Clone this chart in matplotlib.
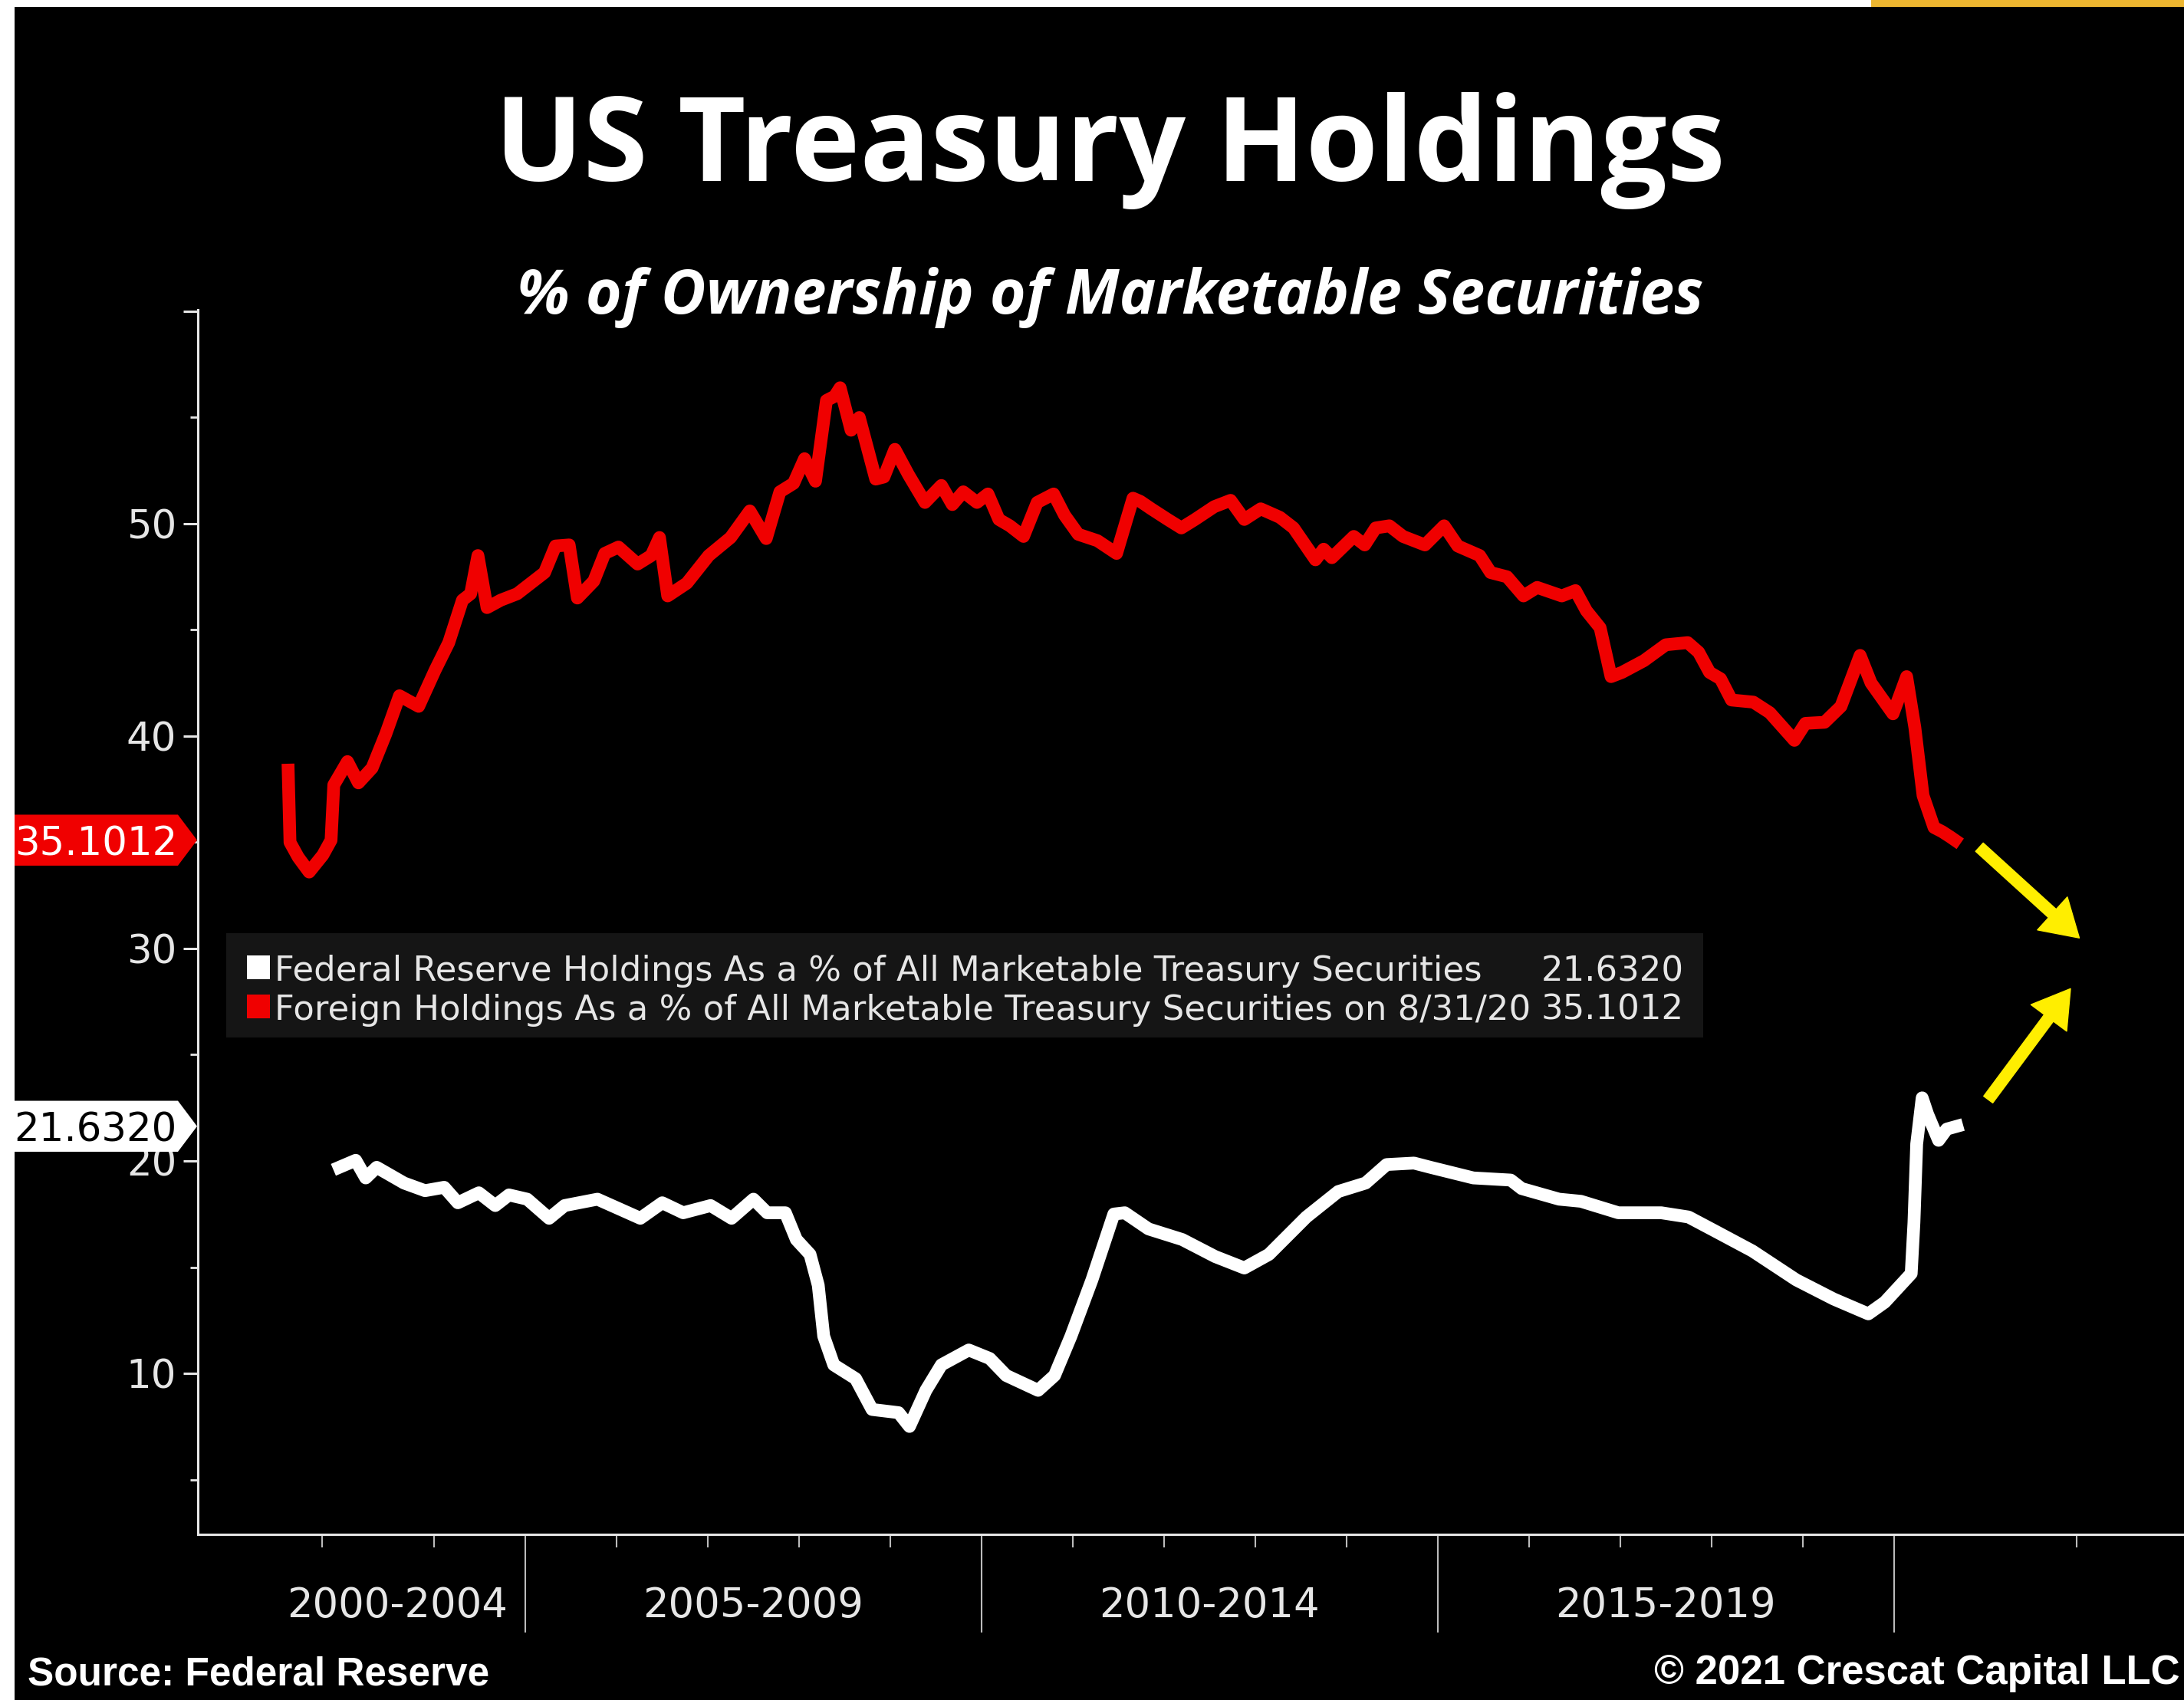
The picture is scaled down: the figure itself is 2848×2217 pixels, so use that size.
import matplotlib.pyplot as plt
from matplotlib.patches import Rectangle, Polygon
from matplotlib.transforms import blended_transform_factory

# Foreign holdings, % of marketable Treasuries (decimal years)
foreign_years = [2002.40, 2002.42, 2002.51, 2002.63, 2002.78, 2002.87, 2002.90, 2003.05, 2003.17, 2003.32,
                 2003.47, 2003.62, 2003.83, 2004.01, 2004.16, 2004.31, 2004.40, 2004.48, 2004.58, 2004.73,
                 2004.91, 2005.09, 2005.21, 2005.33, 2005.48, 2005.57, 2005.75, 2005.87, 2006.02, 2006.23,
                 2006.38, 2006.47, 2006.56, 2006.77, 2007.01, 2007.25, 2007.46, 2007.64, 2007.79, 2007.94,
                 2008.06, 2008.18, 2008.30, 2008.39, 2008.45, 2008.57, 2008.66, 2008.84, 2008.93, 2009.05,
                 2009.20, 2009.38, 2009.56, 2009.68, 2009.80, 2009.95, 2010.07, 2010.19, 2010.31, 2010.46,
                 2010.61, 2010.79, 2010.91, 2011.06, 2011.27, 2011.48, 2011.66,
                 2011.74, 2011.86, 2012.04, 2012.19, 2012.34, 2012.55, 2012.73, 2012.88, 2013.06, 2013.27,
                 2013.42, 2013.66, 2013.75, 2013.84, 2014.08, 2014.20, 2014.32, 2014.47, 2014.62, 2014.86,
                 2015.07, 2015.22, 2015.46, 2015.58, 2015.76, 2015.94, 2016.09, 2016.36, 2016.51, 2016.63,
                 2016.78, 2016.90, 2017.02, 2017.26, 2017.50, 2017.74, 2017.86, 2017.98, 2018.10, 2018.22,
                 2018.46, 2018.64, 2018.91, 2019.03, 2019.24, 2019.42, 2019.63, 2019.75, 2019.99, 2020.14,
                 2020.23, 2020.32, 2020.44, 2020.53, 2020.62, 2020.67]
foreign_pct = [38.4, 35.0, 34.3, 33.6, 34.4, 35.1, 37.7, 38.8, 37.8, 38.5,
               40.1, 41.9, 41.4, 43.1, 44.4, 46.4, 46.7, 48.5, 46.05, 46.4,
               46.7, 47.3, 47.7, 48.95, 49.0, 46.5, 47.3, 48.6, 48.9, 48.1,
               48.5, 49.35, 46.6, 47.2, 48.5, 49.35, 50.6, 49.3, 51.5, 51.9,
               53.06, 52.0, 55.8, 56.0, 56.4, 54.4, 55.0, 52.1, 52.2, 53.5,
               52.3, 51.0, 51.8, 50.9, 51.5, 51.0, 51.4, 50.2, 49.9, 49.4,
               51.0, 51.4, 50.4, 49.5, 49.2, 48.6, 51.2,
               51.05, 50.7, 50.2, 49.8, 50.2, 50.8, 51.1, 50.2, 50.7, 50.3,
               49.8, 48.3, 48.8, 48.4, 49.4, 49.0, 49.8, 49.9, 49.4, 49.0,
               49.9, 48.95, 48.5, 47.7, 47.5, 46.6, 47.0, 46.6, 46.85, 45.9,
               45.1, 42.8, 43.0, 43.55, 44.3, 44.4, 43.95, 43.0, 42.7, 41.7,
               41.6, 41.1, 39.8, 40.6, 40.65, 41.4, 43.8, 42.5, 41.05, 42.8,
               40.4, 37.2, 35.7, 35.5, 35.25, 35.1012]

# Federal Reserve holdings, % of marketable Treasuries
fed_years = [2002.96, 2003.14, 2003.25, 2003.37, 2003.67, 2003.90, 2004.11, 2004.26, 2004.49, 2004.67,
             2004.82, 2005.02, 2005.26, 2005.43, 2005.79, 2006.02, 2006.26, 2006.50, 2006.73, 2007.03,
             2007.26, 2007.50, 2007.65, 2007.85, 2007.97, 2008.12, 2008.21, 2008.27, 2008.38, 2008.62,
             2008.80, 2009.09, 2009.21, 2009.39, 2009.56, 2009.86, 2010.09, 2010.27, 2010.62, 2010.80,
             2010.98, 2011.21, 2011.45, 2011.57, 2011.83,
             2012.20, 2012.56, 2012.88, 2013.15, 2013.56, 2013.91, 2014.21, 2014.44, 2014.74, 2014.92,
             2015.39, 2015.80, 2015.92, 2016.33, 2016.57, 2016.98, 2017.45, 2017.75, 2018.04, 2018.45,
             2018.93, 2019.34, 2019.72, 2019.90, 2020.19, 2020.22, 2020.25, 2020.31, 2020.37, 2020.49,
             2020.58, 2020.69]
fed_pct = [19.7, 20.03, 19.2, 19.7, 18.96, 18.6, 18.76, 18.03, 18.5, 17.9,
           18.4, 18.2, 17.3, 17.9, 18.2, 17.76, 17.3, 18.03, 17.56, 17.9,
           17.3, 18.2, 17.56, 17.56, 16.3, 15.6, 14.15, 11.75, 10.4, 9.75,
           8.3, 8.15, 7.5, 9.2, 10.4, 11.1, 10.7, 9.9, 9.2, 9.9,
           11.75, 14.4, 17.5, 17.56, 16.8,
           16.3, 15.5, 14.96, 15.6, 17.36, 18.56, 18.96, 19.83, 19.9, 19.7,
           19.2, 19.1, 18.7, 18.2, 18.1, 17.56, 17.56, 17.36, 16.7, 15.76,
           14.4, 13.5, 12.8, 13.35, 14.7, 17.1, 20.8, 22.97, 22.2, 20.97,
           21.5, 21.632]

fed_last = 21.6320
foreign_last = 35.1012

period_labels = ['2000-2004', '2005-2009', '2010-2014', '2015-2019']
period_centers = [2003.6, 2007.5, 2012.5, 2017.5]
period_breaks = [2005, 2010, 2015, 2020]
year_ticks = [2002.77, 2004, 2006, 2007, 2008, 2009, 2011, 2012, 2013, 2014,
              2016, 2017, 2018, 2019, 2022]

y_ticks = [10, 20, 30, 40, 50, 60]
y_labels = ['10', '20', '30', '40', '50', '']
y_minor = [5, 15, 25, 35, 45, 55]

legend_names = ['Federal Reserve Holdings As a % of All Marketable Treasury Securities',
                'Foreign Holdings As a % of All Marketable Treasury Securities on 8/31/20']

RED = '#F00000'
FG = '#E6E6E6'

plt.rcParams['font.family'] = 'DejaVu Sans'

W, H = 2848, 2217
fig = plt.figure(figsize=(W / 100, H / 100), dpi=100, facecolor='black')
ax = fig.add_axes([258 / W, (H - 2001) / H, 1 - 258 / W, (2001 - 404) / H])
ax.set_facecolor('black')

ax.plot(foreign_years, foreign_pct, color=RED, lw=12)
ax.plot(fed_years, fed_pct, color='white', lw=12)

ax.set_xlim(2001.41, 2023.18)
ax.set_ylim(2.42, 60.07)

for side in ['top', 'right']:
    ax.spines[side].set_visible(False)
for side in ['left', 'bottom']:
    ax.spines[side].set_color(FG)
    ax.spines[side].set_linewidth(2.2)

ax.set_yticks(y_ticks)
ax.set_yticklabels(y_labels)
ax.set_yticks(y_minor, minor=True)
ax.tick_params(axis='y', which='major', length=14, width=2.2, color=FG,
               labelcolor=FG, labelsize=37, pad=6)
ax.tick_params(axis='y', which='minor', length=7, width=2, color=FG)

ax.set_xticks(period_breaks)
ax.set_xticklabels([''] * len(period_breaks))
ax.set_xticks(year_ticks, minor=True)
ax.tick_params(axis='x', which='major', length=92, width=1.5, color='#BBBBBB')
ax.tick_params(axis='x', which='minor', length=12, width=1.5, color='#BBBBBB')

xt = blended_transform_factory(ax.transData, ax.transAxes)
for c, lab in zip(period_centers, period_labels):
    ax.text(c, -0.058, lab, transform=xt, ha='center', va='center',
            fontsize=38, color=FG)

# yellow arrows pointing toward a crossover
arrow_kw = dict(arrowstyle='simple,head_length=0.9,head_width=1.1,tail_width=0.28',
                color='#FFEE00', mutation_scale=38)
ax.annotate('', xy=(2022.05, 30.43), xytext=(2020.92, 34.84),
            arrowprops=arrow_kw, annotation_clip=False)
ax.annotate('', xy=(2021.95, 28.19), xytext=(2021.02, 22.81),
            arrowprops=arrow_kw, annotation_clip=False)

# last-value tags on the y axis
tag_tr = blended_transform_factory(fig.transFigure, ax.transData)
for v, face, tc in [(foreign_last, RED, 'white'), (fed_last, 'white', 'black')]:
    h = 1.2
    x0, x1, x2 = 19 / W, 232 / W, 257 / W
    fig.add_artist(Polygon([(x0, v - h), (x1, v - h), (x2, v), (x1, v + h), (x0, v + h)],
                           closed=True, transform=tag_tr, facecolor=face,
                           edgecolor='none', zorder=5))
    fig.text(231 / W, v, f'{v:.4f}', transform=tag_tr, ha='right',
             va='center_baseline', fontsize=37, color=tc, zorder=6)

# legend block
fig.add_artist(Rectangle((295 / W, (H - 1353) / H), (2221 - 295) / W, 136 / H,
                         transform=fig.transFigure, facecolor='#151515',
                         edgecolor='none', zorder=3))
rows = [(H - 1262) / H, (H - 1313) / H]
for y, name, val, col in zip(rows, legend_names, [fed_last, foreign_last], ['white', RED]):
    fig.add_artist(Rectangle((322 / W, y - 15 / H), 30 / W, 31 / H,
                             transform=fig.transFigure, facecolor=col,
                             edgecolor='none', zorder=4))
    fig.text(358 / W, y, name, ha='left', va='center_baseline', fontsize=32.4,
             color=FG, zorder=4)
    fig.text(2196 / W, y, f'{val:.4f}', ha='right', va='center_baseline',
             fontsize=32.4, color=FG, zorder=4)

# titles
fig.text(1447 / W, (H - 236) / H, 'US Treasury Holdings', ha='center',
         va='baseline', fontsize=110, fontweight='bold', color='white',
         family='Open Sans')
fig.text(1448 / W, (H - 409) / H, '% of Ownership of Marketable Securities',
         ha='center', va='baseline', fontsize=58, fontweight='bold',
         fontstyle='italic', color='white', family='Open Sans')

fig.text(36 / W, (H - 2197) / H, 'Source: Federal Reserve', ha='left',
         va='baseline', fontsize=37, fontweight='bold', color='white',
         family='Liberation Sans')
fig.text(2843 / W, (H - 2196) / H, '\u00a9 2021 Crescat Capital LLC', ha='right',
         va='baseline', fontsize=38, fontweight='bold', color='white',
         family='Liberation Sans')

# page border strips
fig.add_artist(Rectangle((0, 0), 19 / W, 1, transform=fig.transFigure,
                         facecolor='white', edgecolor='none', zorder=10))
fig.add_artist(Rectangle((0, 1 - 9 / H), 2440 / W, 9 / H, transform=fig.transFigure,
                         facecolor='white', edgecolor='none', zorder=10))
fig.add_artist(Rectangle((2440 / W, 1 - 9 / H), 1 - 2440 / W, 9 / H,
                         transform=fig.transFigure, facecolor='#EDB630',
                         edgecolor='none', zorder=10))

fig.savefig('out.png', dpi=100, facecolor='black')
